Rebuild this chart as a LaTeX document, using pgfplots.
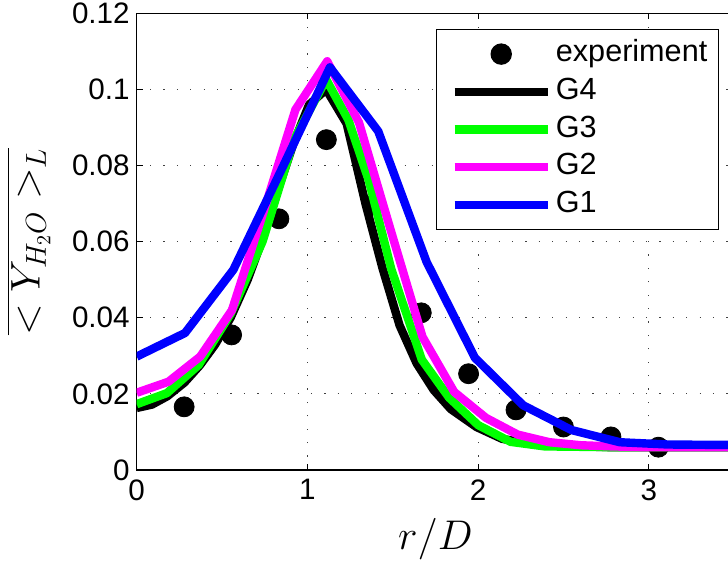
\documentclass[border=0pt]{standalone}
\usepackage[no-math]{fontspec}
\setmainfont{Liberation Sans}
\usepackage{pgfplots}
\pgfplotsset{compat=1.18}
\definecolor{mgreen}{rgb}{0,1,0}
\definecolor{mmag}{rgb}{1,0,1}
\definecolor{mblue}{rgb}{0,0,1}

\begin{document}
\begin{tikzpicture}
% the reference is cropped at the right edge of the axis
\useasboundingbox (-68.35pt,-47pt) rectangle (295.65pt,235pt);
\clip (-68.35pt,-47pt) rectangle (295.65pt,235pt);
\begin{axis}[
  at={(0,0)}, anchor=south west,
  scale only axis, width=298.75pt, height=228.35pt,
  xmin=0, xmax=3.5, ymin=0, ymax=0.12,
  xtick={0,1,2,3}, xticklabels={0,1,2,3},
  ytick={0,0.02,0.04,0.06,0.08,0.1,0.12},
  yticklabels={0,0.02,0.04,0.06,0.08,0.1,0.12},
  ytick pos=left,
  tick align=inside, major tick length=3pt,
  tick style={black, line width=0.6pt},
  axis line style={line width=0.8pt},
  grid=major,
  grid style={black!75, line width=0.6pt, dash pattern=on 0.6pt off 6.1pt},
  ticklabel style={font=\fontsize{14.8}{17}\selectfont},
  xticklabel style={yshift=-1.2pt},
  label style={font=\fontsize{20}{24}\selectfont},
  xlabel={$r/D$}, ylabel={$\overline{<Y_{H_2O}>_L}$},
  xlabel shift=2pt, ylabel shift=4pt,
  clip marker paths=true,
  legend style={at={(1,1)}, anchor=north east, xshift=-7.6pt, yshift=-7.8pt,
    draw=black, line width=0.7pt, inner xsep=4.5pt, inner ysep=4.5pt,
    font=\fontsize{15.3}{17}\selectfont,
    nodes={inner sep=1pt, text height=10.5pt, text depth=3pt},
    row sep=3.35pt, cells={anchor=west}},
  legend image code/.code={\path (0pt,0pt) (50pt,0pt);
    \draw[mark repeat=2,mark phase=2,#1]
    plot coordinates {(2.5pt,0pt) (25.75pt,0pt) (49pt,0pt)};},
]
\addplot[only marks, mark=*, mark size=5pt, black] coordinates {
  (0.278,0.0166) (0.556,0.0355) (0.833,0.066) (1.111,0.0868) (1.389,0.0697)
  (1.667,0.0413) (1.944,0.0253) (2.222,0.0158) (2.5,0.0113) (2.778,0.0087)
  (3.056,0.0060)};
\addlegendentry{experiment}
\addplot[black, line width=4.2pt, line join=round] coordinates {
  (0,0.0163) (0.09,0.0172) (0.18,0.0194) (0.28,0.023) (0.37,0.0275)
  (0.46,0.033) (0.55,0.040) (0.65,0.050) (0.74,0.061) (0.83,0.074)
  (0.92,0.086) (1.01,0.096) (1.11,0.100) (1.23,0.091) (1.34,0.070)
  (1.44,0.053) (1.54,0.038) (1.64,0.028) (1.74,0.021) (1.84,0.016)
  (1.99,0.0113) (2.14,0.0082) (2.29,0.0070) (2.49,0.0063) (2.79,0.0060)
  (3.5,0.0060)};
\addlegendentry{G4}
\addplot[mgreen, line width=4.2pt, line join=round] coordinates {
  (0,0.0173) (0.177,0.0202) (0.363,0.0276) (0.55,0.041) (0.737,0.060)
  (0.923,0.087) (1.11,0.1026) (1.24,0.092) (1.36,0.076) (1.49,0.053)
  (1.67,0.029) (1.83,0.019) (2.0,0.0118) (2.19,0.0074) (2.39,0.0062)
  (2.79,0.0060) (3.5,0.0060)};
\addlegendentry{G3}
\addplot[mmag, line width=4.2pt, line join=round] coordinates {
  (0,0.0203) (0.186,0.0232) (0.372,0.0298) (0.558,0.042) (0.744,0.068)
  (0.93,0.0947) (1.116,0.1074) (1.302,0.0913) (1.488,0.063) (1.674,0.035)
  (1.86,0.0205) (2.046,0.0137) (2.232,0.0093) (2.418,0.0073) (2.604,0.0065)
  (2.79,0.0062) (2.976,0.0060) (3.162,0.0060) (3.348,0.0060) (3.534,0.0060)};
\addlegendentry{G2}
\addplot[mblue, line width=4.2pt, line join=round] coordinates {
  (0,0.0298) (0.283,0.036) (0.566,0.0526) (0.849,0.079) (1.132,0.1058)
  (1.415,0.089) (1.698,0.0547) (1.981,0.0295) (2.264,0.017) (2.547,0.0105)
  (2.83,0.0073) (3.113,0.0067) (3.396,0.0066) (3.679,0.0066)};
\addlegendentry{G1}
\end{axis}
\end{tikzpicture}
\end{document}
